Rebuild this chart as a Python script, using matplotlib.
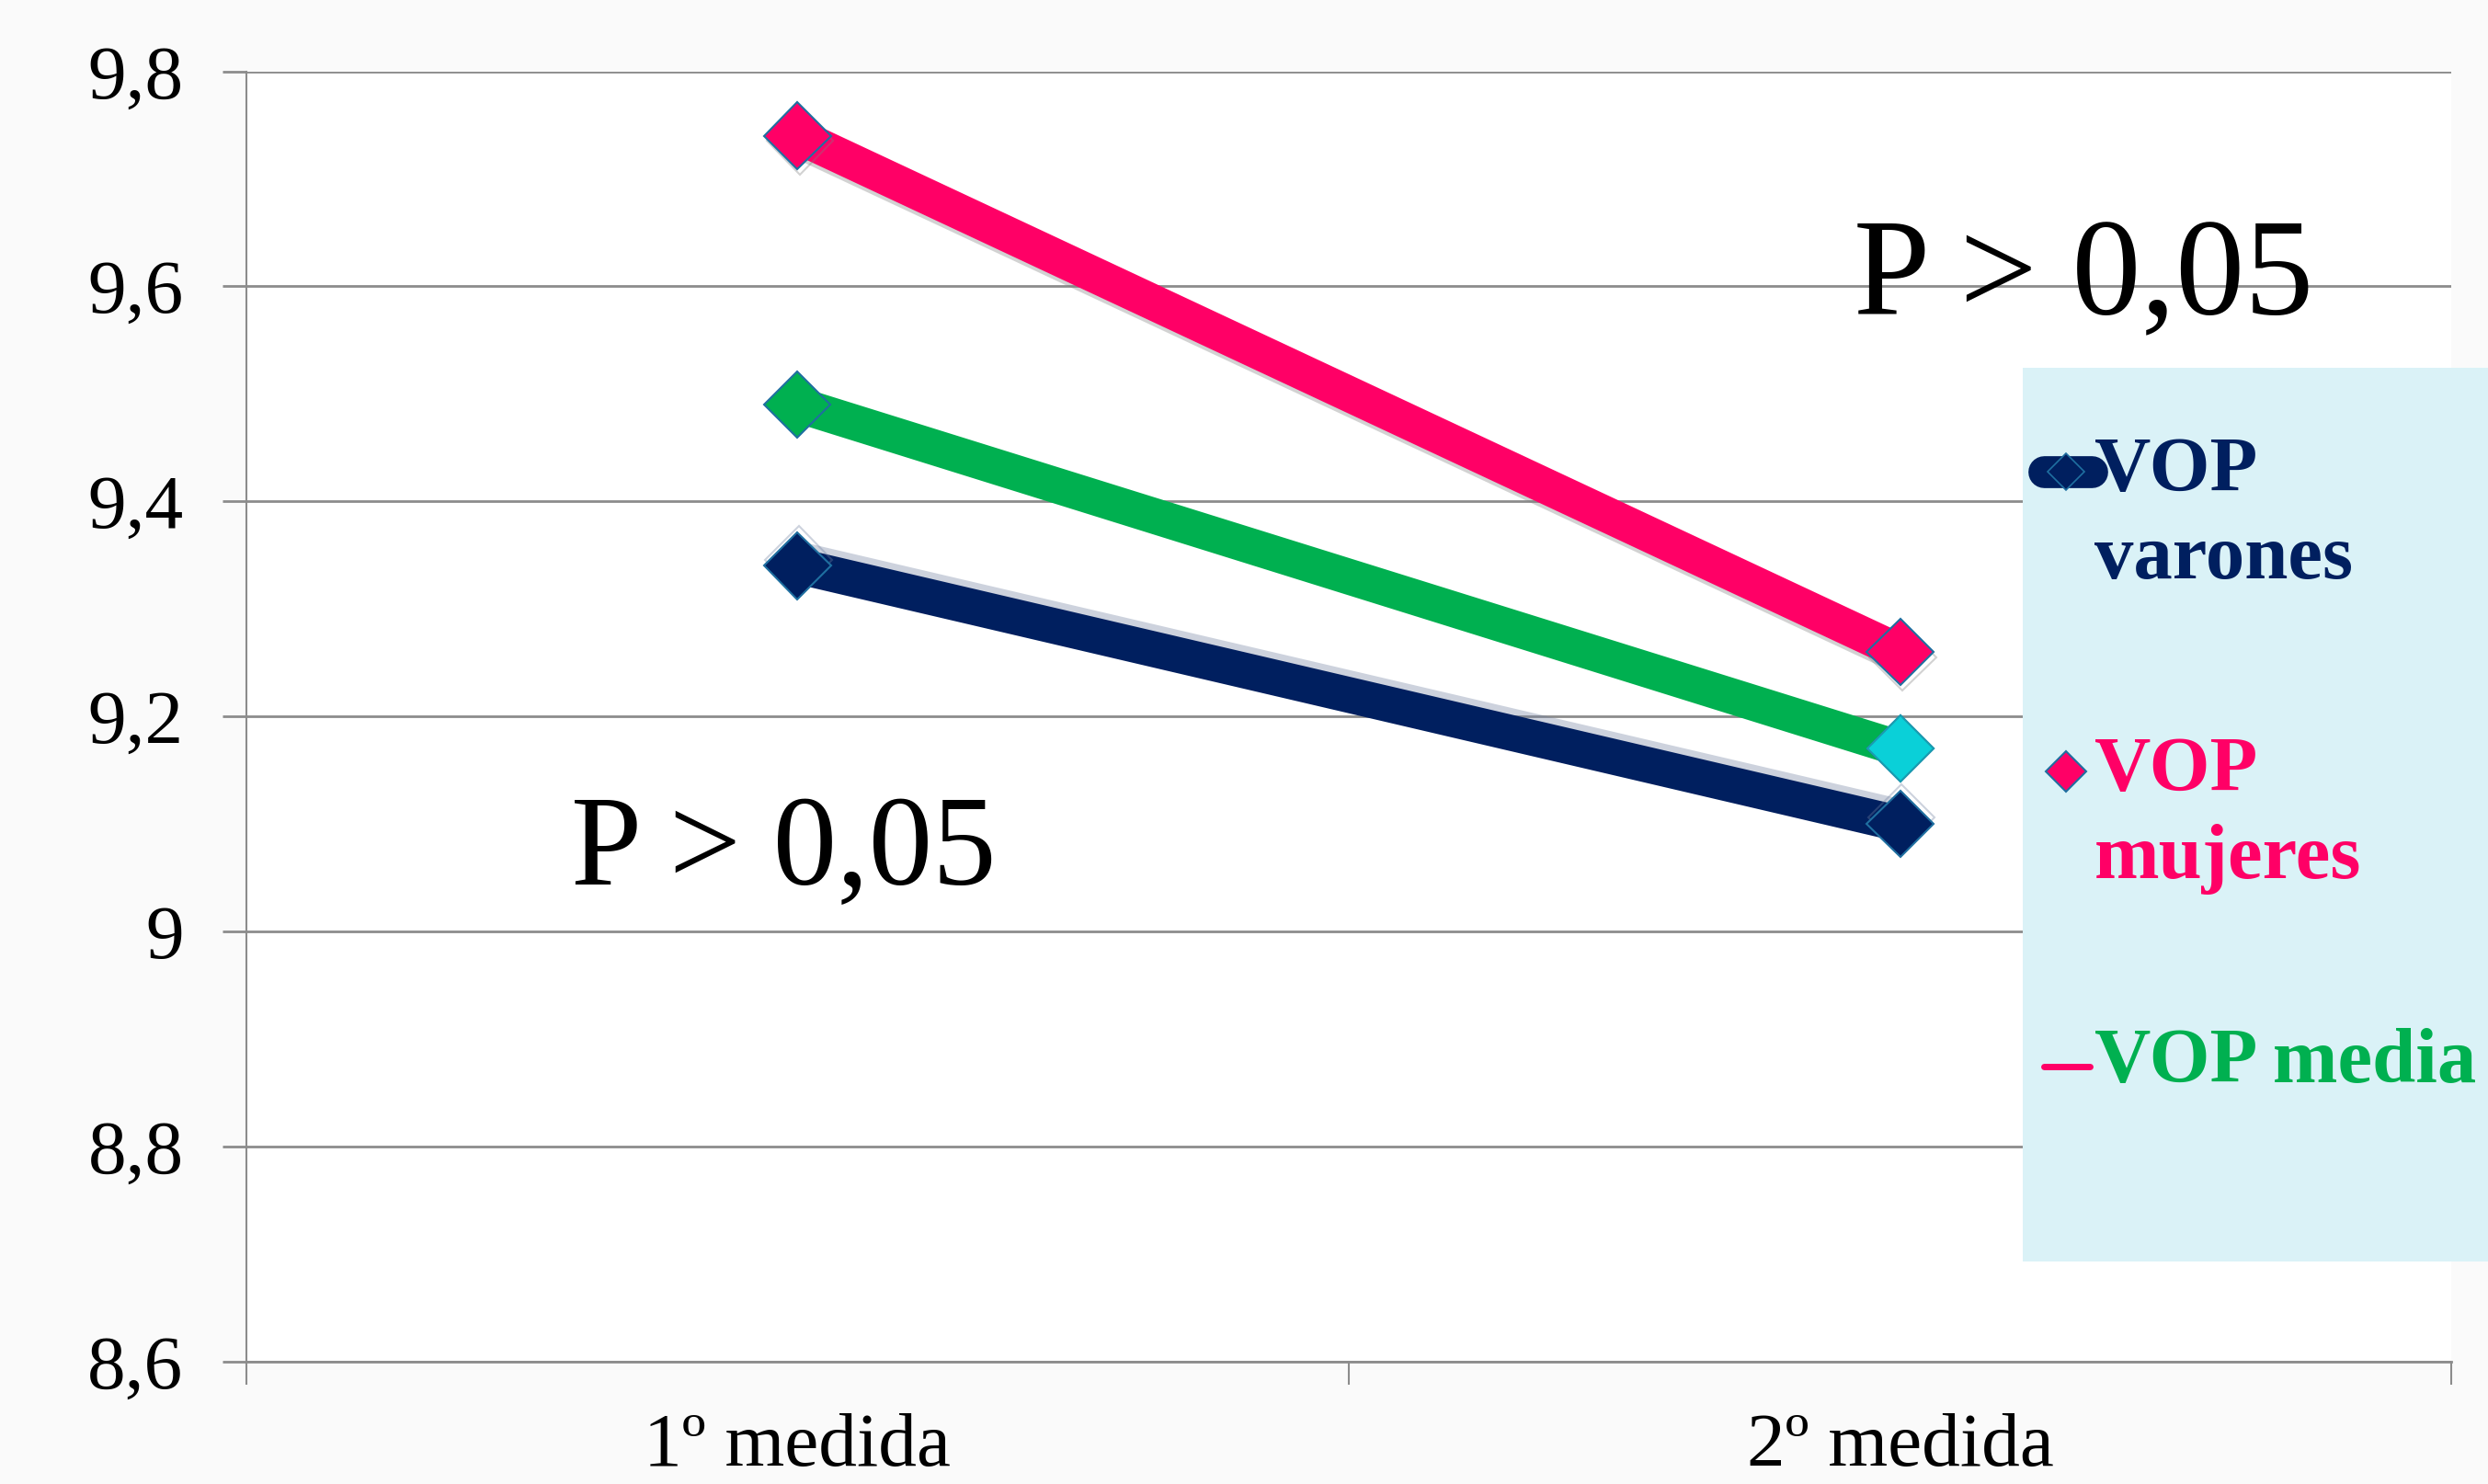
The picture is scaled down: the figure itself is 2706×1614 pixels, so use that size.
import matplotlib.pyplot as plt
import matplotlib.patheffects as pe
from matplotlib.lines import Line2D
from matplotlib.patches import Rectangle

plt.rcParams['font.family'] = ['Liberation Serif', 'DejaVu Serif']

categorias = ['1º medida', '2º medida']
varones = [9.34, 9.10]
mujeres = [9.74, 9.26]
media = [9.49, 9.17]
y_ticks = [8.6, 8.8, 9.0, 9.2, 9.4, 9.6, 9.8]
y_labels = ['8,6', '8,8', '9', '9,2', '9,4', '9,6', '9,8']

navy = '#001f5f'
pink = '#ff0066'
green = '#00b050'
cyan = '#0ad0d8'
edge = '#1f6fa0'

W, H = 2706, 1614
fig = plt.figure(figsize=(W / 100, H / 100), dpi=100, facecolor='#fafafa')
ax = fig.add_axes([0.0989, 0.0826, 0.8864, 0.8693])
ax.set_facecolor('white')

x = [0.5, 1.5]
mk = dict(marker='D', markersize=37, markeredgecolor=edge, markeredgewidth=1.5,
          lw=28, solid_capstyle='butt')

ax.plot(x, varones, color=navy, markerfacecolor=navy,
        path_effects=[pe.SimpleLineShadow(offset=(1, 5), shadow_color='#7080a0', alpha=0.35),
                      pe.Normal()], zorder=3, **mk)
ax.plot(x, mujeres, color=pink, markerfacecolor=pink,
        path_effects=[pe.SimpleLineShadow(offset=(2, -4), shadow_color='gray', alpha=0.35),
                      pe.Normal()], zorder=3, **mk)
ax.plot(x, media, color=green, markerfacecolor=green, zorder=3, **mk)
# el ultimo punto de la media va en cian
ax.plot(x[1:], media[1:], linestyle='none', marker='D', markersize=37,
        markerfacecolor=cyan, markeredgecolor='#1a9cb0', markeredgewidth=1.5, zorder=4)

ax.set_xlim(0, 2)
ax.set_ylim(8.6, 9.8)
ax.set_yticks(y_ticks)
ax.set_yticklabels(y_labels)
ax.set_xticks([0, 1, 2])
ax.set_xticklabels([])
ax.set_xticks(x, minor=True)
ax.set_xticklabels(categorias, minor=True)
ax.tick_params(axis='x', which='minor', length=0, pad=40, labelsize=60)
ax.tick_params(axis='x', which='major', length=18, width=1.5, color='#8c8c8c')
ax.tick_params(axis='y', length=19, width=2, color='#8c8c8c', pad=30, labelsize=60)

ax.grid(axis='y', color='#8c8c8c', lw=2)
ax.set_axisbelow(True)
for s in ['top', 'right']:
    ax.spines[s].set_visible(False)
ax.spines['left'].set_color('#8c8c8c')
ax.spines['left'].set_linewidth(1.5)
ax.spines['bottom'].set_color('#8c8c8c')
ax.spines['bottom'].set_linewidth(2)

ax.text(0.295, 9.072, 'P > 0,05', fontsize=100, va='center', ha='left')
ax.text(1.458, 9.605, 'P > 0,05', fontsize=108, va='center', ha='left')

# leyenda dibujada a mano sobre fondo cian claro
def fx(px):
    return px / 1568

def fy(py):
    return 1 - py / 935

fig.add_artist(Rectangle((fx(1275), fy(795)), fx(1568) - fx(1275), fy(232) - fy(795),
                         transform=fig.transFigure, facecolor='#daf2f7', edgecolor='none', zorder=5))

fig.add_artist(Line2D([fx(1288), fx(1318)], [fy(297), fy(297)], transform=fig.transFigure,
                      color=navy, lw=25, solid_capstyle='round', zorder=6))
fig.add_artist(Line2D([fx(1302)], [fy(297)], transform=fig.transFigure, marker='D',
                      markersize=20, markerfacecolor=navy, markeredgecolor=edge,
                      markeredgewidth=1.2, zorder=7))
fig.add_artist(Line2D([fx(1302)], [fy(486)], transform=fig.transFigure, marker='D',
                      markersize=22, markerfacecolor=pink, markeredgecolor=edge,
                      markeredgewidth=1.5, zorder=7))
fig.add_artist(Line2D([fx(1288), fx(1317)], [fy(672), fy(672)], transform=fig.transFigure,
                      color=pink, lw=5, solid_capstyle='round', zorder=6))

ley = dict(fontsize=61, fontweight='bold', ha='left', va='center', linespacing=1.3, zorder=8)
fig.text(fx(1320), fy(325), 'VOP\nvarones', color=navy, **ley)
fig.text(fx(1320), fy(514), 'VOP\nmujeres', color=pink, **ley)
fig.text(fx(1320), fy(670), 'VOP media', color=green, **ley)

fig.savefig('out.png', dpi=100, facecolor=fig.get_facecolor())
